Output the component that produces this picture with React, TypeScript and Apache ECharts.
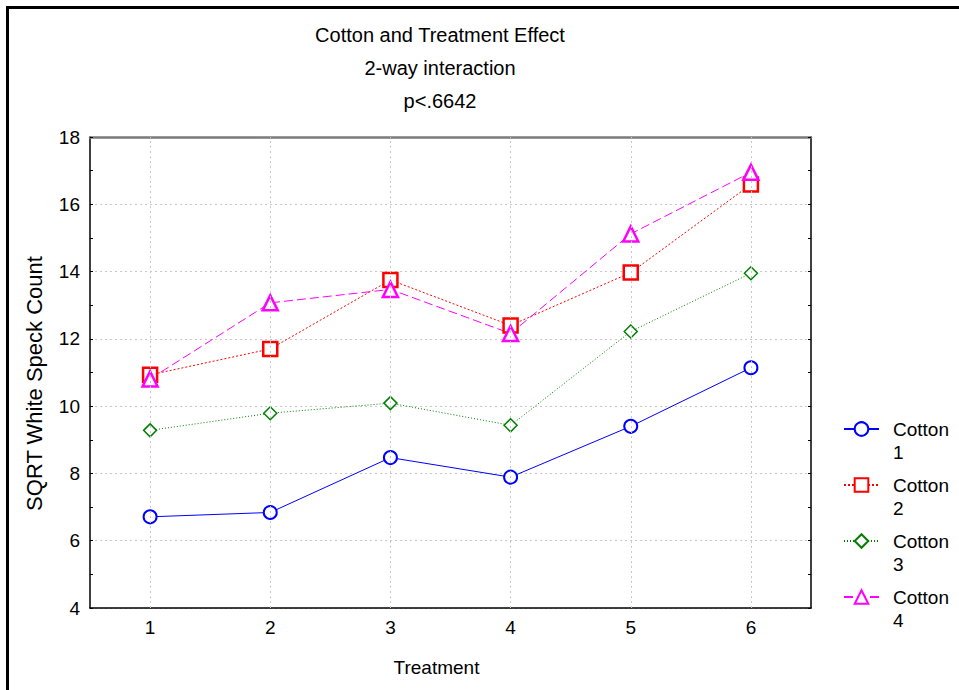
import React, { useEffect, useRef } from "react";
import * as echarts from "echarts";

const treatments = ["1", "2", "3", "4", "5", "6"];
const seriesNames = ["Cotton 1", "Cotton 2", "Cotton 3", "Cotton 4"];
const cotton1 = [6.71, 6.84, 8.47, 7.89, 9.4, 11.14];
const cotton2 = [10.93, 11.7, 13.75, 12.4, 13.97, 16.59];
const cotton3 = [9.28, 9.79, 10.09, 9.43, 12.22, 13.95];
const cotton4 = [10.81, 13.07, 13.47, 12.16, 15.12, 16.95];
const titleLines = ["Cotton and Treatment Effect", "2-way interaction", "p<.6642"];
const xName = "Treatment";
const yName = "SQRT White Speck Count";

const FONT = "'Liberation Sans', Arial, sans-serif";
const GRID_STYLE = { color: "#c8c8c8", type: [2, 3] as any, width: 1 };

export default function App() {
  const ref = useRef<HTMLDivElement>(null);
  useEffect(() => {
    if (!ref.current) return;
    const chart = echarts.init(ref.current, null, { renderer: "svg" });
    const mk = (
      name: string,
      data: number[],
      color: string,
      symbol: string,
      size: number,
      bw: number,
      lineType: any,
      extra: any = {}
    ) => ({
      name,
      type: "line",
      data,
      symbol,
      symbolSize: size,
      showAllSymbol: true,
      itemStyle: { color: "#ffffff", borderColor: color, borderWidth: bw },
      lineStyle: { color, width: 1, type: lineType },
      emphasis: { disabled: true },
      z: 3,
      ...extra,
    });
    chart.setOption({
      animation: false,
      backgroundColor: "#ffffff",
      textStyle: { fontFamily: FONT },
      title: {
        text: titleLines.join("\n"),
        left: 440,
        top: 18,
        textAlign: "center",
        padding: 0,
        textStyle: {
          fontFamily: FONT,
          fontSize: 20,
          fontWeight: "normal",
          color: "#000",
          lineHeight: 33,
        },
      },
      grid: { left: 90, right: 148, top: 137, bottom: 82 },
      legend: {
        orient: "vertical",
        left: 843,
        top: 394.5,
        padding: 0,
        itemWidth: 35,
        itemHeight: 17,
        itemGap: -13,
        data: seriesNames,
        formatter: (n: string) => " \n" + n.replace(" ", "\n"),
        textStyle: {
          fontFamily: FONT,
          fontSize: 19,
          color: "#000",
          lineHeight: 23,
          padding: [0, 0, 0, 9],
        },
        selectedMode: false,
      },
      xAxis: [
        {
          type: "category",
          data: treatments,
          boundaryGap: true,
          name: xName,
          nameLocation: "middle",
          nameGap: 50,
          nameTextStyle: {
            fontFamily: FONT,
            fontSize: 19,
            color: "#000",
            padding: [0, 28, 0, 0],
          },
          axisLine: { lineStyle: { color: "#000", width: 1.5 } },
          axisTick: { inside: true, length: 3, alignWithLabel: true, lineStyle: { color: "#000" } },
          axisLabel: { fontFamily: FONT, fontSize: 19, color: "#000", margin: 10 },
          splitLine: { show: false },
        },
        {
          type: "category",
          data: treatments,
          boundaryGap: true,
          position: "top",
          axisLine: { lineStyle: { color: "#7a7a7a", width: 2.5 } },
          axisTick: { inside: true, length: 3, alignWithLabel: true, lineStyle: { color: "#000" } },
          axisLabel: { show: false },
          splitLine: { show: false },
        },
      ],
      yAxis: [
        {
          type: "value",
          min: 4,
          max: 18,
          interval: 2,
          name: yName,
          nameLocation: "middle",
          nameGap: 45,
          nameTextStyle: {
            fontFamily: FONT,
            fontSize: 22,
            color: "#000",
            padding: [0, 22, 0, 0],
          },
          axisLine: { show: true, lineStyle: { color: "#000", width: 1.5 } },
          axisTick: { show: true, inside: true, length: 3, lineStyle: { color: "#000" } },
          minorTick: { show: true, splitNumber: 2, length: 3, lineStyle: { color: "#000" } },
          axisLabel: { fontFamily: FONT, fontSize: 19, color: "#000", margin: 10 },
          splitLine: { show: true, lineStyle: GRID_STYLE },
        },
        {
          type: "value",
          min: 4,
          max: 18,
          interval: 1,
          position: "right",
          axisLine: { show: true, lineStyle: { color: "#000", width: 1.5 } },
          axisTick: { show: true, inside: true, length: 3, lineStyle: { color: "#000" } },
          axisLabel: { show: false },
          splitLine: { show: false },
        },
      ],
      graphic: [
        { type: "line", shape: { x1: 6, y1: 7.5, x2: 965, y2: 7.5 }, style: { stroke: "#000", lineWidth: 3 } },
        { type: "line", shape: { x1: 7.5, y1: 6, x2: 7.5, y2: 700 }, style: { stroke: "#000", lineWidth: 3 } },
      ],
      series: [
        mk(seriesNames[0], cotton1, "#0000ff", "circle", 13, 2, "solid", {
          markLine: {
            silent: true,
            symbol: ["none", "none"],
            label: { show: false },
            lineStyle: GRID_STYLE,
            emphasis: { disabled: true },
            data: treatments.map((t) => ({ xAxis: t })),
          },
        }),
        mk(seriesNames[1], cotton2, "#ff0000", "rect", 14, 2.5, [2, 2]),
        mk(seriesNames[2], cotton3, "#008000", "diamond", 13, 1.5, [1, 2]),
        mk(seriesNames[3], cotton4, "#ff00ff", "triangle", 15, 2.5, [9, 4]),
      ],
    });
    return () => chart.dispose();
  }, []);
  return (
    <div
      ref={ref}
      style={{ position: "absolute", left: 0, top: 0, width: 959, height: 690 }}
    />
  );
}
